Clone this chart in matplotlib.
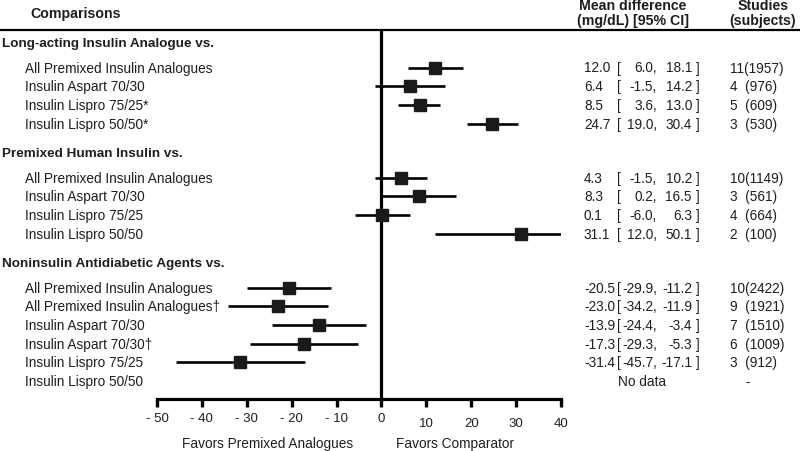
import matplotlib
matplotlib.use("Agg")
import matplotlib.pyplot as plt
from matplotlib.lines import Line2D
from matplotlib.transforms import blended_transform_factory

plt.rcParams['font.family'] = ['Liberation Sans', 'DejaVu Sans']

# data
groups = ["Long-acting Insulin Analogue vs.",
          "Premixed Human Insulin vs.",
          "Noninsulin Antidiabetic Agents vs."]

rows1 = ["All Premixed Insulin Analogues", "Insulin Aspart 70/30",
         "Insulin Lispro 75/25*", "Insulin Lispro 50/50*"]
mean1 = [12.0, 6.4, 8.5, 24.7]
lo1 = [6.0, -1.5, 3.6, 19.0]
hi1 = [18.1, 14.2, 13.0, 30.4]
studies1 = [11, 4, 5, 3]
subjects1 = [1957, 976, 609, 530]

rows2 = ["All Premixed Insulin Analogues", "Insulin Aspart 70/30",
         "Insulin Lispro 75/25", "Insulin Lispro 50/50"]
mean2 = [4.3, 8.3, 0.1, 31.1]
lo2 = [-1.5, 0.2, -6.0, 12.0]
hi2 = [10.2, 16.5, 6.3, 50.1]
studies2 = [10, 3, 4, 2]
subjects2 = [1149, 561, 664, 100]

rows3 = ["All Premixed Insulin Analogues", "All Premixed Insulin Analogues\u2020",
         "Insulin Aspart 70/30", "Insulin Aspart 70/30\u2020",
         "Insulin Lispro 75/25", "Insulin Lispro 50/50"]
mean3 = [-20.5, -23.0, -13.9, -17.3, -31.4, None]
lo3 = [-29.9, -34.2, -24.4, -29.3, -45.7, None]
hi3 = [-11.2, -11.9, -3.4, -5.3, -17.1, None]
studies3 = [10, 9, 7, 6, 3, None]
subjects3 = [2422, 1921, 1510, 1009, 912, None]

ticks = [-50, -40, -30, -20, -10, 0, 10, 20, 30, 40]

W, H = 800, 452
fig = plt.figure(figsize=(8, 4.52), dpi=100)
ax = fig.add_axes([157 / W, (H - 400) / H, (561 - 157) / W, (400 - 30) / H])
ax.set_xlim(-50, 40)
ax.set_ylim(400, 30)  # vertical layout in pixel rows from the top

for s in ["top", "left", "right"]:
    ax.spines[s].set_visible(False)
ax.spines["bottom"].set_linewidth(2.3)
ax.set_yticks([])
ax.set_xticks(ticks)
ax.tick_params(axis="x", direction="out", length=6, width=2.4, labelbottom=False)
ax.axvline(0, color="black", lw=2.3)

txt = "#1e1e1e"
fs = 9.8
hfs = 10.2
lab_tr = blended_transform_factory(fig.transFigure, ax.transData)

def fx(px):
    return px / W

blocks = [(groups[0], rows1, mean1, lo1, hi1, studies1, subjects1),
          (groups[1], rows2, mean2, lo2, hi2, studies2, subjects2),
          (groups[2], rows3, mean3, lo3, hi3, studies3, subjects3)]

y = 44.0
for gname, rows, mean, lo, hi, nst, nsub in blocks:
    ax.text(fx(2), y, gname, transform=lab_tr, fontsize=9.7, fontweight="bold",
            va="center", ha="left", color=txt)
    y += 24.5
    for i, name in enumerate(rows):
        ax.text(fx(25), y, name, transform=lab_tr, fontsize=fs, va="center",
                ha="left", color=txt)
        if mean[i] is None:
            ax.text(fx(642), y, "No data", transform=lab_tr, fontsize=fs,
                    va="center", ha="center", color=txt)
            ax.text(fx(748), y, "-", transform=lab_tr, fontsize=fs,
                    va="center", ha="center", color=txt)
        else:
            ax.plot([lo[i], hi[i]], [y, y], color="black", lw=1.9,
                    solid_capstyle="butt")
            ax.plot(mean[i], y, marker="s", ms=8.5, color="#1a1a1a", ls="none")
            ax.text(fx(584), y, f"{mean[i]:.1f}", transform=lab_tr, fontsize=fs,
                    va="center", ha="left", color=txt)
            ax.text(fx(617), y, "[", transform=lab_tr, fontsize=fs,
                    va="center", ha="left", color=txt)
            ax.text(fx(657), y, f"{lo[i]:.1f},", transform=lab_tr, fontsize=fs,
                    va="center", ha="right", color=txt)
            ax.text(fx(692), y, f"{hi[i]:.1f}", transform=lab_tr, fontsize=fs,
                    va="center", ha="right", color=txt)
            ax.text(fx(695.5), y, "]", transform=lab_tr, fontsize=fs,
                    va="center", ha="left", color=txt)
            gap = "" if nst[i] >= 10 else "  "
            ax.text(fx(730), y, f"{nst[i]}{gap}({nsub[i]})", transform=lab_tr,
                    fontsize=fs, va="center", ha="left", color=txt)
        y += 18.7
    y += 29.5 - 18.7

# tick labels, positives sit a little lower as in the original
tick_tr = blended_transform_factory(ax.transData, fig.transFigure)
for t in ticks:
    lab = f"- {abs(t)}" if t < 0 else str(t)
    ypix = 419 if t <= 0 else 424
    ax.text(t, 1 - ypix / H, lab, transform=tick_tr, fontsize=9.5,
            ha="center", va="center", color=txt)

# headers
fig.text(fx(76), 1 - 14 / H, "Comparisons", fontsize=hfs, fontweight="bold",
         ha="center", va="center", color=txt)
fig.text(fx(633), 1 - 6 / H, "Mean difference", fontsize=hfs, fontweight="bold",
         ha="center", va="center", color=txt)
fig.text(fx(633), 1 - 21 / H, "(mg/dL) [95% CI]", fontsize=hfs, fontweight="bold",
         ha="center", va="center", color=txt)
fig.text(fx(763), 1 - 6 / H, "Studies", fontsize=hfs, fontweight="bold",
         ha="center", va="center", color=txt)
fig.text(fx(763), 1 - 21 / H, "(subjects)", fontsize=hfs, fontweight="bold",
         ha="center", va="center", color=txt)
fig.add_artist(Line2D([0, 1], [1 - 30.5 / H, 1 - 30.5 / H], color="black", lw=1.6,
                      transform=fig.transFigure))

fig.text(fx(268), 1 - 444 / H, "Favors Premixed Analogues", fontsize=fs,
         ha="center", va="center", color=txt)
fig.text(fx(455), 1 - 444 / H, "Favors Comparator", fontsize=fs,
         ha="center", va="center", color=txt)

fig.savefig("out.png", dpi=100)
